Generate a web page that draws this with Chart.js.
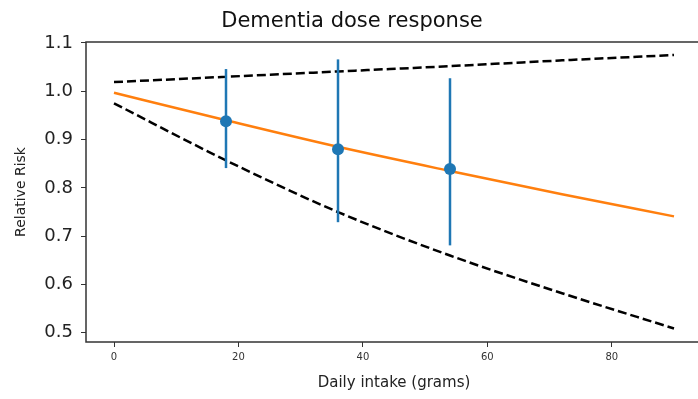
<!DOCTYPE html>
<html>
<head>
<meta charset="utf-8">
<script src="https://cdn.jsdelivr.net/npm/chart.js@4"></script>
<style>
  html, body { margin: 0; padding: 0; background: #fff; overflow: hidden; }
  #wrap { width: 698px; height: 399px; overflow: hidden; }
</style>
</head>
<body>
<div id="wrap"><canvas id="doseChart" width="708" height="399"></canvas></div>
<script>
// fitted curve and confidence band
const doseGrid = [0, 18, 36, 54, 72, 90];
const rrFit = [0.997, 0.940, 0.885, 0.835, 0.787, 0.741];
const ciUpper = [1.019, 1.030, 1.041, 1.052, 1.064, 1.075];
const ciLower = [0.975, 0.857, 0.750, 0.660, 0.582, 0.509];

// study points with error bars
const studyDose = [18, 36, 54];
const studyRR = [0.938, 0.880, 0.839];
const studyLow = [0.841, 0.729, 0.681];
const studyHigh = [1.046, 1.066, 1.027];

const xTicks = [0, 20, 40, 60, 80];
const yTicks = [0.5, 0.6, 0.7, 0.8, 0.9, 1.0, 1.1];

const blue = '#1f77b4';
const orange = '#ff7f0e';
const spine = '#333333';

const toXY = (xs, ys) => xs.map((x, i) => ({x: x, y: ys[i]}));

let datasets = [];
datasets.push({
    data: toXY(studyDose, studyRR),
    showLine: false,
    pointRadius: 6,
    pointBackgroundColor: blue,
    pointBorderWidth: 0
});
studyDose.forEach((d, i) => {
    datasets.push({
        data: [{x: d, y: studyLow[i]}, {x: d, y: studyHigh[i]}],
        showLine: true,
        borderColor: blue,
        borderWidth: 2.5,
        pointRadius: 0
    });
});
datasets.push({
    data: toXY(doseGrid, rrFit),
    showLine: true,
    borderColor: orange,
    borderWidth: 2.5,
    pointRadius: 0,
    cubicInterpolationMode: 'monotone'
});
datasets.push({
    data: toXY(doseGrid, ciUpper),
    showLine: true,
    borderColor: '#000',
    borderWidth: 2.5,
    borderDash: [9, 4],
    pointRadius: 0,
    cubicInterpolationMode: 'monotone'
});
datasets.push({
    data: toXY(doseGrid, ciLower),
    showLine: true,
    borderColor: '#000',
    borderWidth: 2.5,
    borderDash: [9, 4],
    pointRadius: 0,
    cubicInterpolationMode: 'monotone'
});

const frame = {
    id: 'frame',
    afterDatasetsDraw(chart) {
        const a = chart.chartArea;
        const ctx = chart.ctx;
        ctx.save();
        ctx.strokeStyle = spine;
        ctx.lineWidth = 1.5;
        ctx.strokeRect(a.left, a.top, a.right - a.left, a.bottom - a.top);
        ctx.restore();
    }
};

new Chart(document.getElementById('doseChart'), {
    type: 'scatter',
    data: {datasets: datasets},
    plugins: [frame],
    options: {
        responsive: false,
        animation: false,
        devicePixelRatio: 1,
        layout: {padding: {left: 0, right: 4, top: 0, bottom: 0}},
        plugins: {
            legend: {display: false},
            tooltip: {enabled: false},
            title: {
                display: true,
                text: 'Dementia dose response',
                color: '#111',
                font: {family: 'DejaVu Sans', size: 21, weight: 'normal'},
                padding: {top: 9, bottom: 7.8}
            }
        },
        scales: {
            x: {
                type: 'linear',
                min: -4.5,
                max: 94.5,
                afterBuildTicks: s => { s.ticks = xTicks.map(v => ({value: v})); },
                afterFit: s => { s.height = 57; },
                grid: {drawOnChartArea: false, tickLength: 5, tickColor: spine},
                border: {display: false},
                ticks: {
                    color: '#333',
                    padding: 4,
                    maxRotation: 0,
                    font: {family: 'DejaVu Sans', size: 10}
                },
                title: {
                    display: true,
                    text: 'Daily intake (grams)',
                    color: '#222',
                    font: {family: 'DejaVu Sans', size: 15},
                    padding: {top: 0, bottom: 7}
                }
            },
            y: {
                min: 0.481,
                max: 1.102,
                afterBuildTicks: s => { s.ticks = yTicks.map(v => ({value: v})); },
                afterFit: s => { s.width = 86; },
                grid: {drawOnChartArea: false, tickLength: 5, tickColor: spine},
                border: {display: false},
                ticks: {
                    color: '#222',
                    padding: 8,
                    font: {family: 'DejaVu Sans', size: 18},
                    callback: v => v.toFixed(1)
                },
                title: {
                    display: true,
                    text: 'Relative Risk',
                    color: '#222',
                    font: {family: 'DejaVu Sans', size: 14},
                    padding: {top: 13, bottom: 0}
                }
            }
        }
    }
});
</script>
</body>
</html>
